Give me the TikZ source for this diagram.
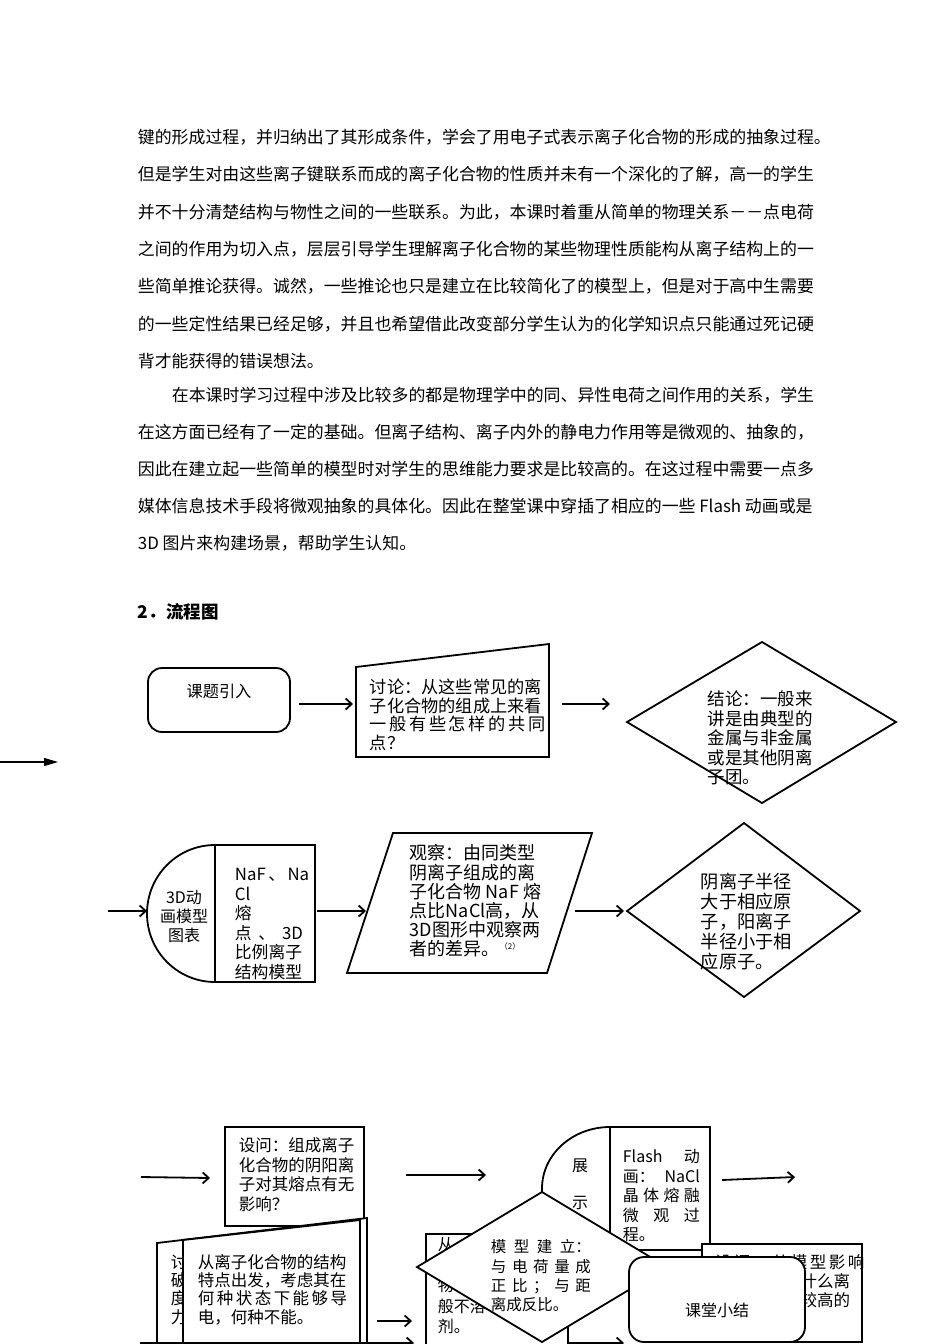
\documentclass[tikz,border=0pt]{standalone}
\usepackage{fontspec}
\setmainfont{Noto Sans CJK SC}
\usepackage{tikz}
\usetikzlibrary{arrows.meta}
\newcommand{\fsz}[2]{\fontsize{#1}{#2}\selectfont}
\newcommand{\spreadto}[2]{\makebox[#1pt][s]{#2}}

\begin{document}
\begin{tikzpicture}[x=1pt,y=-1pt,line width=1.8pt,line join=miter,
    chev/.style={-{Straight Barb[length=6pt,width=11pt]}},
    shp/.style={draw,fill=white},
    txt/.style={inner sep=0pt,anchor=west,align=left},
    body/.style={inner sep=0pt,anchor=west,font=\fsz{16.9}{20}}]
  \useasboundingbox (0,0) rectangle (950,1344);

  \foreach \x/\y/\words [count=\i] in {
      137/137/键的形成过程，并归纳出了其形成条件，学会了用电子式表示离子化合物的形成的抽象过程。,
      137/174/但是学生对由这些离子键联系而成的离子化合物的性质并未有一个深化的了解，高一的学生,
      137/212/并不十分清楚结构与物性之间的一些联系。为此，本课时着重从简单的物理关系－－点电荷,
      137/249/之间的作用为切入点，层层引导学生理解离子化合物的某些物理性质能构从离子结构上的一,
      137/286/些简单推论获得。诚然，一些推论也只是建立在比较简化了的模型上，但是对于高中生需要,
      137/324/的一些定性结果已经足够，并且也希望借此改变部分学生认为的化学知识点只能通过死记硬,
      137/361/背才能获得的错误想法。,
      171/395/在本课时学习过程中涉及比较多的都是物理学中的同、异性电荷之间作用的关系，学生,
      137/432/在这方面已经有了一定的基础。但离子结构、离子内外的静电力作用等是微观的、抽象的，,
      137/469/因此在建立起一些简单的模型时对学生的思维能力要求是比较高的。在这过程中需要一点多,
      137/506/媒体信息技术手段将微观抽象的具体化。因此在整堂课中穿插了相应的一些 Flash 动画或是,
      137/543/3D 图片来构建场景，帮助学生认知。}
    \node[body] (para\i) at (\x,\y) {\words};
  \node[body,font=\fsz{17.5}{20}\bfseries] (head) at (137,612) {2．流程图};

  \draw[rounded corners=14pt] (148,668) rectangle (290,732);
  \node[inner sep=0pt,font=\fsz{16.2}{19}] (intro) at (219,691) {课题引入};
  \draw (356,667) -- (549,644) -- (549,757) -- (356,757) -- cycle;
  \node[txt,font=\fsz{17.2}{18.6}] (discuss) at (369,715) {讨论：从这些常见的离\\子化合物的组成上来看\\\spreadto{168}{一 般 有 些 怎 样 的 共 同}\\点？};
  \draw (627,722) -- (762,642) -- (896,722) -- (762,803) -- cycle;
  \node[txt,font=\fsz{17.5}{19.4}] (concl) at (707,738) {结论：一般来\\讲是由典型的\\金属与非金属\\或是其他阴离\\子团。};
  \coordinate (lefts) at (0,762);
  \coordinate (lefte) at (58,762);
  \draw[line width=1.2pt,-{Triangle[length=14pt,width=8pt]}] (lefts) -- (lefte);

  \draw (215,845) .. controls (177.4,845) and (147,875.7) .. (147,913.5) .. controls (147,951.3) and (177.4,982) .. (215,982) -- cycle;
  \draw (215,845) rectangle (315,982);
  \node[inner sep=0pt,align=center,font=\fsz{16}{19}] (anim) at (184,917) {3D动\\画模型\\图表};
  \node[txt,font=\fsz{16.8}{19.6}] (model) at (234,924) {\spreadto{68}{NaF 、 Na}\\Cl\\熔\\\spreadto{68}{点 、 3D}\\比例离子\\结构模型};
  \draw (393,833) -- (592,833) -- (547,973) -- (347,973) -- cycle;
  \node[txt,font=\fsz{18}{19.2}] (observe) at (409,901) {观察：由同类型\\阴离子组成的离\\子化合物 NaF 熔\\点比NaCl高，从\\3D图形中观察两\\者的差异。{\fsz{8}{8}\raisebox{6pt}{（2）}}};
  \draw (627,911) -- (744,823) -- (860,911) -- (744,997) -- cycle;
  \node[txt,font=\fsz{18.2}{20}] (radius) at (700,922) {阴离子半径\\大于相应原\\子，阳离子\\半径小于相\\应原子。};

  \draw[shp] (225,1127) rectangle (364,1226);
  \node[txt,font=\fsz{16.5}{19.7}] (ask1) at (238,1174.5) {设问：组成离子\\化合物的阴阳离\\子对其熔点有无\\影响？};
  \draw[shp] (157,1243) -- (367,1218) -- (367,1360) -- (157,1360) -- cycle;
  \node[txt,font=\fsz{16.5}{18.4}] (back) at (170,1289.5) {讨\\破\\度\\力};
  \draw[shp] (183,1240) -- (360,1220) -- (360,1360) -- (183,1360) -- cycle;
  \node[txt,font=\fsz{16.5}{18.3}] (struct) at (197,1289.5) {从离子化合物的结构\\特点出发，考虑其在\\\spreadto{148}{何 种 状 态 下 能 够 导}\\电，何种不能。};

  \draw[shp] (610,1127) .. controls (572.4,1127) and (542,1154.5) .. (542,1188.5) .. controls (542,1222.5) and (572.4,1250) .. (610,1250) -- cycle;
  \draw[shp] (610,1127) rectangle (710,1250);
  \node[inner sep=0pt,font=\fsz{16}{19}] (show1) at (580,1166) {展};
  \node[inner sep=0pt,font=\fsz{16}{19}] (show2) at (580,1203) {示};
  \node[txt,font=\fsz{16}{19.5}] (flash) at (622,1196) {\spreadto{77}{Flash 动}\\\spreadto{77}{画： NaCl}\\\spreadto{77}{晶 体 熔 融}\\\spreadto{77}{微 观 过}\\程。};
  \draw[shp] (426,1234) rectangle (568,1360);
  \node[txt,font=\fsz{16}{20.5}] (insol) at (437,1286) {从\\\mbox{}\\物\\般不溶\\剂。};
  \draw[shp] (417,1267) -- (542,1192) -- (667,1267) -- (542,1342) -- cycle;
  \node[txt,font=\fsz{15.5}{19.3}] (build) at (490,1276) {\spreadto{100}{模 型 建 立：}\\\spreadto{100}{与 电 荷 量 成}\\\spreadto{100}{正 比 ； 与 距}\\离成反比。};
  \draw[shp] (702,1244) rectangle (862,1342);
  \node[inner sep=0pt,anchor=east,align=right,font=\fsz{16.5}{19}] (ask2) at (851,1281) {\spreadto{135}{设 问 ： 从 模 型 影 响}\\什么离\\较高的};
  \draw[shp,rounded corners=15pt] (629,1257) rectangle (805,1342);
  \node[inner sep=0pt,font=\fsz{16}{19}] (summary) at (717,1310) {课堂小结};

  \foreach \n/\xa/\ya/\xb/\yb in {1/299/704/353/704, 2/562/704/610/704,
      3/108/911/147/911, 4/317/911/366/911, 5/575/911/624/911,
      6/141/1177/210/1178, 7/406/1175/486/1175, 8/722/1180/795/1177,
      9/377/1321/412/1321, 10/140/1343/414/1343, 11/568/1343/624/1343}{
    \coordinate (from\n) at (\xa,\ya);
    \coordinate (to\n) at (\xb,\yb);
    \draw[chev] (from\n) -- (to\n);
  }
\end{tikzpicture}
\end{document}
